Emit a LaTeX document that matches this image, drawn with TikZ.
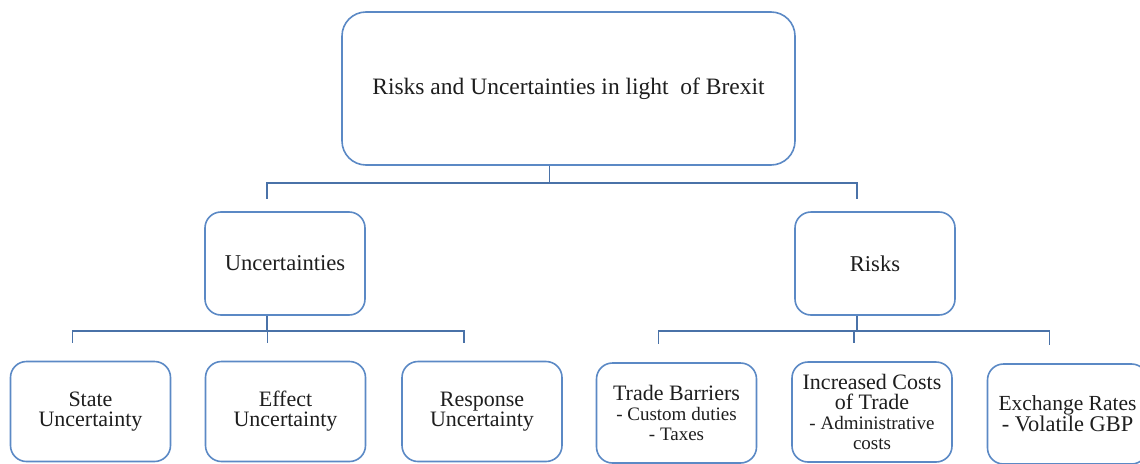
\documentclass[tikz,border=0pt]{standalone}
\usepackage{fontspec}
\setmainfont{Liberation Serif}
\usetikzlibrary{positioning}
\definecolor{boxblue}{RGB}{91,137,197}
\definecolor{linkblue}{RGB}{74,114,168}
\definecolor{ink}{RGB}{30,30,30}
\tikzset{
every node/.style={text=ink}, % all labels in dark grey
box/.style={draw=boxblue, line width=1.6pt, fill=white, align=center, inner sep=0pt,
  minimum width=160pt, minimum height=100pt, rounded corners=16pt}, % every box of the chart
link/.style={draw=linkblue, line width=1.6pt}, % the elbow lines between the boxes
main/.style={font=\rmfamily\fontsize{22}{20}\selectfont},
}
\newcommand{\subline}[1]{{\fontsize{19}{16}\selectfont #1}}

\begin{document}
\begin{tikzpicture}[x=1pt,y=-1pt]
  \useasboundingbox (0,0) rectangle (1140,463);
  \clip (0,0) rectangle (1140,463);

  % top level
  \node[box, minimum width=453pt, minimum height=153pt, rounded corners=24pt,
        font=\rmfamily\fontsize{23.5}{22}\selectfont] (brexit) at (568.5,88.5)
        {Risks and Uncertainties in light\ \ of Brexit};

  % second level
  \node[box, minimum height=103pt, font=\rmfamily\fontsize{22.6}{20}\selectfont] (unc) at (285,263.5) {Uncertainties};
  \node[box, minimum height=103pt, font=\rmfamily\fontsize{22.6}{20}\selectfont] (risks) at (875,263.5) {Risks};

  % third level
  \node[box, main] (state) at (90.5,411.5) {State\\Uncertainty};
  \node[box, main] (effect) at (285.5,411.5) {Effect\\Uncertainty};
  \node[box, main] (response) at (482,411.5) {Response\\Uncertainty};
  \node[box, main] (trade) at (676.5,413)
        {Trade Barriers\\\subline{- Custom duties}\\\subline{- Taxes}};
  \node[box, main] (costs) at (872,412)
        {Increased Costs\\of Trade\\\subline{- Administrative}\\\subline{costs}};
  \node[box, font=\rmfamily\fontsize{21.5}{21}\selectfont] (rates) at (1067.5,414)
        {Exchange Rates\\{\fontsize{22.4}{20}\selectfont - Volatile GBP}};

  % connectors
  \draw[link] ([xshift=-19pt]brexit.south) -- ++(0,17) coordinate (hubA);
  \foreach \kid in {unc,risks}
    \draw[link, shorten >=12pt] (hubA) -| ([xshift=-18pt]\kid.north);

  \draw[link] ([xshift=-18pt]unc.south) -- ++(0,15) coordinate (hubB);
  \foreach \kid in {state,effect,response}
    \draw[link, shorten >=18pt] (hubB) -| ([xshift=-18pt]\kid.north);

  \draw[link] ([xshift=-18pt]risks.south) -- ++(0,15) coordinate (hubC);
  \foreach \kid in {trade,costs,rates}
    \draw[link, shorten >=18pt] (hubC) -| ([xshift=-18pt]\kid.north);
\end{tikzpicture}
\end{document}
